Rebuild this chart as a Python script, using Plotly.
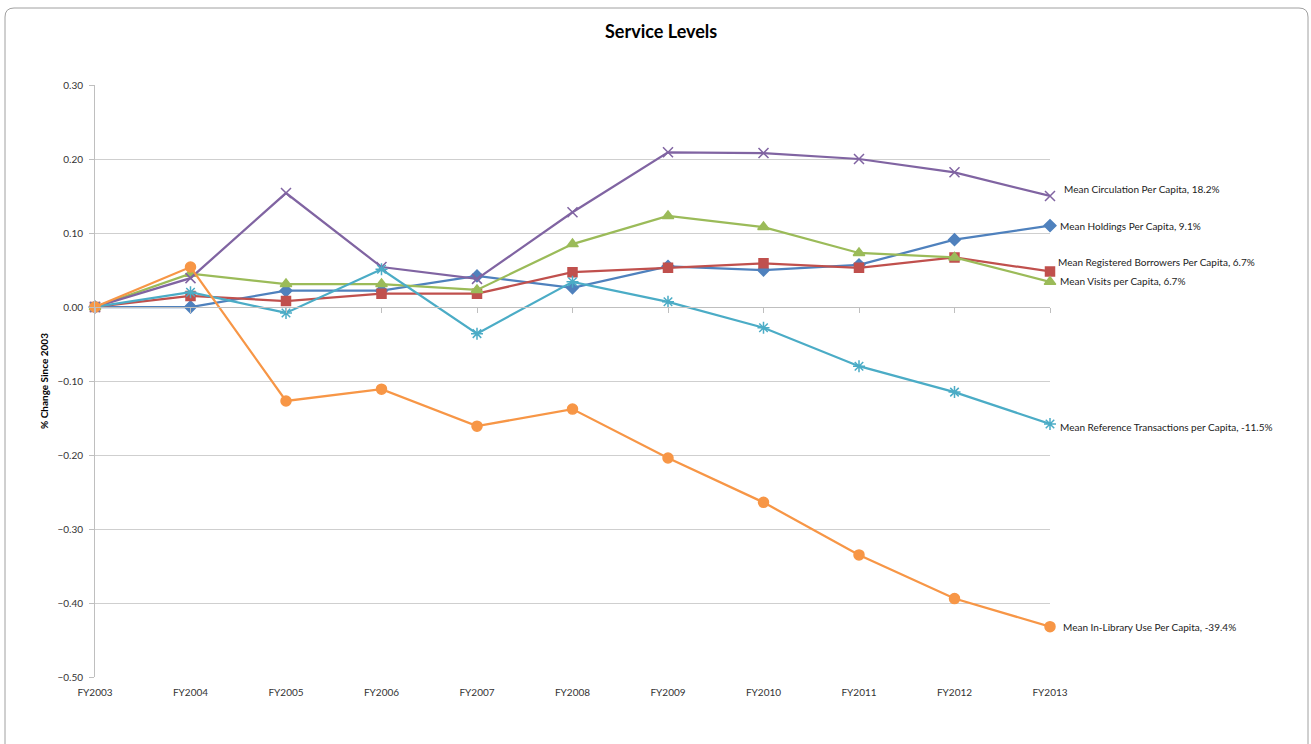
import plotly.graph_objects as go

years = ["FY2003", "FY2004", "FY2005", "FY2006", "FY2007", "FY2008",
         "FY2009", "FY2010", "FY2011", "FY2012", "FY2013"]

holdings = [0.0, 0.0, 0.022, 0.022, 0.042, 0.026, 0.055, 0.050, 0.057, 0.091, 0.110]
borrowers = [0.0, 0.015, 0.008, 0.018, 0.018, 0.047, 0.053, 0.059, 0.053, 0.067, 0.048]
visits = [0.0, 0.045, 0.031, 0.031, 0.023, 0.085, 0.123, 0.108, 0.073, 0.067, 0.034]
circulation = [0.0, 0.039, 0.154, 0.054, 0.038, 0.128, 0.209, 0.208, 0.200, 0.182, 0.150]
reference = [0.0, 0.020, -0.008, 0.051, -0.036, 0.034, 0.007, -0.028, -0.080, -0.115, -0.158]
in_library = [0.0, 0.054, -0.127, -0.111, -0.161, -0.138, -0.204, -0.264, -0.335, -0.394, -0.432]

y_ticks = [0.30, 0.20, 0.10, 0.00, -0.10, -0.20, -0.30, -0.40, -0.50]

series = [
    ("Mean Holdings Per Capita", holdings, "#4F81BD", "diamond", 9, 0, 0),
    ("Mean Registered Borrowers Per Capita", borrowers, "#C0504D", "square", 9, 9, -2),
    ("Mean Visits per Capita", visits, "#9BBB59", "triangle-up", 10, 1, 0),
    ("Mean Circulation Per Capita", circulation, "#8064A2", "x-thin-open", 10, 7, 4),
    ("Mean Reference Transactions per Capita", reference, "#4BACC6", "asterisk-open", 10, -3, 0),
    ("Mean In-Library Use Per Capita", in_library, "#F79646", "circle", 10, 0, 3),
]

FONT = "Lato, 'Open Sans', sans-serif"
xi = list(range(len(years)))

fig = go.Figure()
annotations = []
for name, vals, color, symbol, size, dy, dx in series:
    fig.add_trace(go.Scatter(
        x=xi, y=vals, mode="lines+markers", name=name,
        line=dict(color=color, width=2.25),
        marker=dict(symbol=symbol, size=size, color=color,
                    line=dict(color=color, width=1.5)),
        cliponaxis=False, showlegend=False,
    ))
    annotations.append(dict(
        x=xi[-1], y=vals[-1], xref="x", yref="y",
        text=f"{name}, {vals[-2] * 100:.1f}%",
        showarrow=False, xanchor="left", yanchor="middle",
        xshift=8 + dx, yshift=dy,
        font=dict(family=FONT, size=10, color="#222222"),
    ))

# invisible trace so the zero-line category axis is rendered
fig.add_trace(go.Scatter(x=xi, y=[0] * len(xi), xaxis="x2", yaxis="y",
                         mode="lines", line=dict(width=0), hoverinfo="skip",
                         showlegend=False))

annotations.append(dict(
    x=0.5, y=1.0, xref="paper", yref="paper", yanchor="middle", xanchor="center",
    xshift=88, yshift=54,
    text="<b>Service Levels</b>", showarrow=False,
    font=dict(family=FONT, size=18, color="#000000"),
))

fig.update_layout(
    width=1311, height=744,
    margin=dict(l=95, r=261, t=85, b=67),
    paper_bgcolor="white", plot_bgcolor="white",
    font=dict(family=FONT, size=10, color="#404040"),
    xaxis=dict(
        range=[0, len(years) - 1], tickmode="array", tickvals=xi, ticktext=years,
        showgrid=False, zeroline=False, showline=False,
        ticks="outside", ticklen=6, tickcolor="rgba(0,0,0,0)",
        tickfont=dict(family=FONT, size=10, color="#333333"),
    ),
    xaxis2=dict(
        range=[0, len(years) - 1], overlaying="x", anchor="free",
        position=0.5 / 0.8, tickmode="array", tickvals=xi,
        showticklabels=False, showgrid=False, zeroline=False,
        showline=True, linecolor="#BFBFBF", linewidth=1,
        ticks="outside", ticklen=5, tickcolor="#BFBFBF",
    ),
    yaxis=dict(
        range=[-0.5, 0.3], tickmode="array", tickvals=y_ticks,
        tickformat=".2f", showgrid=True, gridcolor="#CFCFCF", gridwidth=1,
        zeroline=False, showline=True, linecolor="#BFBFBF", linewidth=1,
        ticks="outside", ticklen=5, tickcolor="#BFBFBF",
        ticklabelstandoff=4,
        tickfont=dict(family=FONT, size=10, color="#333333"),
        title=dict(text="<b>% Change Since 2003</b>", standoff=6,
                   font=dict(family=FONT, size=10, color="#000000")),
    ),
    annotations=annotations,
    shapes=[dict(
        type="path", xref="paper", yref="paper", layer="below",
        path="M {x0},{y1} L {x0},{yt0} Q {x0},{yt} {xc0},{yt} L {x1c},{yt} Q {x1},{yt} {x1},{yt0} L {x1},{y1}".format(
            x0=(5 - 95) / 955, x1=(1308 - 95) / 955,
            xc0=(14 - 95) / 955, x1c=(1299 - 95) / 955,
            yt=(677 - 8) / 592, yt0=(677 - 17) / 592, y1=(677 - 760) / 592,
        ),
        line=dict(color="#A0A0A0", width=1),
    )],
)

fig.write_html("out.html")
